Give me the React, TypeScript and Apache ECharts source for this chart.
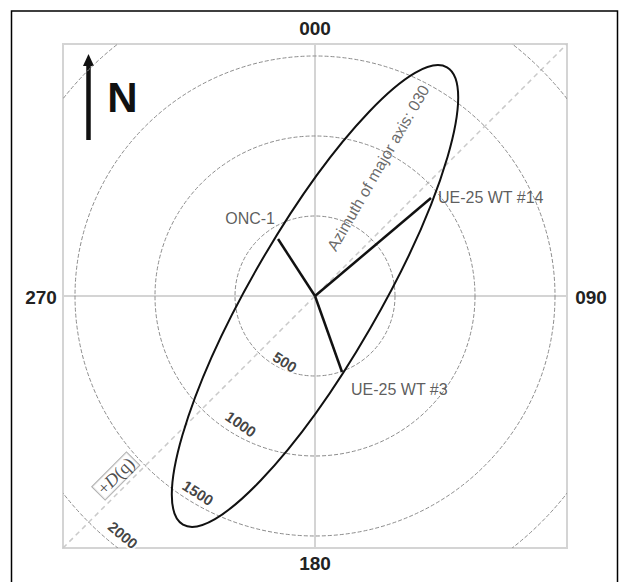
import React, { useEffect, useRef } from 'react';
import * as echarts from 'echarts';

// ---- data ----
const AXIS_LIMIT = 1575; // map units from centre to square edge

const ringRadii = [500, 1000, 1500, 2000];
const ringLabelText = ['500', '1000', '1500', '2000'];
const ringLabelX = [-188, -463, -731, -1200];
const ringLabelY = [-413, -800, -1231, -1494];
const ringLabelRotate = [-32, -35, -33, -40];

const wellNames = ['ONC-1', 'UE-25 WT #14', 'UE-25 WT #3'];
const wellX = [-231, 725, 169];
const wellY = [356, 612, -475];

const ellipseCenter = [0, 0];
const ellipseSemiMajor = 1650;
const ellipseSemiMinor = 400;
const ellipseAzimuth = 30; // degrees clockwise from north

const azimuthLabel = 'Azimuth of major axis: 030';
const azimuthLabelPos = [395, 800];
const dqLabelPos = [-1245, -1125];

const directionLabels = ['000', '090', '180', '270'];

const FONT = '"Liberation Sans", Arial, Helvetica, sans-serif';
const SERIF = '"Liberation Serif", "Times New Roman", serif';

const wellLabelStyle: any[] = [
  { align: 'right', position: [-3, -20] },
  { align: 'left', position: [7, -1] },
  { align: 'left', position: [9, 18] },
];

function buildOption(): any {
  const L = AXIS_LIMIT;
  const dirText = (text: string, x: number, y: number) => ({
    type: 'text', x, y,
    style: { text, font: `bold 19px ${FONT}`, fill: '#222', align: 'center', verticalAlign: 'middle' },
  });
  return {
    animation: false,
    backgroundColor: '#ffffff',
    grid: {
      left: 63,
      top: 44,
      width: 504,
      height: 504,
      show: true,
      borderColor: '#d4d4d4',
      borderWidth: 2,
      backgroundColor: 'transparent',
    },
    xAxis: { type: 'value', min: -L, max: L, show: false },
    yAxis: { type: 'value', min: -L, max: L, show: false },
    graphic: [
      {
        type: 'rect',
        shape: { x: 11.5, y: 11, width: 606, height: 620 },
        style: { fill: 'none', stroke: '#000', lineWidth: 1.5 },
        silent: true,
      },
      // north arrow
      {
        type: 'line',
        shape: { x1: 88.5, y1: 140, x2: 88.5, y2: 64 },
        style: { stroke: '#111', lineWidth: 4.5 },
      },
      {
        type: 'polygon',
        shape: { points: [[83, 66], [94, 66], [88.5, 54]] },
        style: { fill: '#111' },
      },
      {
        type: 'text',
        x: 122.5,
        y: 97,
        style: {
          text: 'N',
          font: `bold 42px ${FONT}`,
          fill: '#111',
          align: 'center',
          verticalAlign: 'middle',
        },
      },
      dirText(directionLabels[0], 315, 28),
      dirText(directionLabels[1], 591, 297),
      dirText(directionLabels[2], 315, 563),
      dirText(directionLabels[3], 41, 297),
    ],
    series: [
      // crosshair
      {
        type: 'line', data: [[-L, 0], [L, 0]], symbol: 'none', silent: true, z: 1,
        lineStyle: { color: '#d4d4d4', width: 2 },
      },
      {
        type: 'line', data: [[0, -L], [0, L]], symbol: 'none', silent: true, z: 1,
        lineStyle: { color: '#d4d4d4', width: 2 },
      },
      // diagonal dashed
      {
        type: 'line', data: [[-L, -L], [L, L]], symbol: 'none', silent: true, z: 1,
        lineStyle: { color: '#cacaca', width: 1.5, type: [5, 4] },
      },
      // distance rings
      {
        type: 'custom',
        z: 2,
        silent: true,
        data: ringRadii.map((r) => [0, 0, r]),
        encode: { x: 0, y: 1 },
        renderItem: (params: any, api: any) => {
          const c = api.coord([api.value(0), api.value(1)]);
          const r = api.size([api.value(2), 0])[0];
          const cs = params.coordSys;
          return {
            type: 'circle',
            shape: { cx: c[0], cy: c[1], r },
            style: { fill: 'none', stroke: '#8c8c8c', lineWidth: 1, lineDash: [4, 2] },
            clipPath: { type: 'rect', shape: { x: cs.x, y: cs.y, width: cs.width, height: cs.height } },
          };
        },
      },
      // ring labels
      {
        type: 'scatter',
        z: 3,
        silent: true,
        symbolSize: 0.1,
        itemStyle: { color: 'transparent' },
        data: ringLabelText.map((t, i) => ({
          value: [ringLabelX[i], ringLabelY[i]],
          name: t,
          label: { rotate: ringLabelRotate[i] },
        })),
        label: {
          show: true,
          position: 'inside',
          formatter: (p: any) => p.name,
          fontFamily: FONT,
          fontSize: 15,
          fontWeight: 'bold',
          color: '#111',
          backgroundColor: '#fff',
          padding: [0, 1],
        },
      },
      // +D(q) label
      {
        type: 'scatter',
        z: 3,
        silent: true,
        symbolSize: 0.1,
        itemStyle: { color: 'transparent' },
        data: [{ value: dqLabelPos, name: 'dq' }],
        label: {
          show: true,
          position: 'inside',
          rotate: 45,
          formatter: '{n|+}{i|D}{n|(q)}',
          backgroundColor: '#fff',
          borderColor: '#999',
          borderWidth: 1,
          padding: [0, 2],
          rich: {
            n: { fontFamily: SERIF, fontSize: 18, color: '#222' },
            i: { fontFamily: SERIF, fontSize: 18, fontStyle: 'italic', color: '#222' },
          },
        },
      },
      // azimuth label
      {
        type: 'scatter',
        z: 3,
        silent: true,
        symbolSize: 0.1,
        itemStyle: { color: 'transparent' },
        data: [{ value: azimuthLabelPos, name: azimuthLabel }],
        label: {
          show: true,
          position: 'inside',
          rotate: 90 - ellipseAzimuth,
          formatter: (p: any) => p.name,
          fontFamily: FONT,
          fontSize: 16,
          color: '#444',
        },
      },
      // ellipse
      {
        type: 'custom',
        z: 4,
        silent: true,
        data: [[ellipseCenter[0], ellipseCenter[1], ellipseSemiMajor, ellipseSemiMinor, ellipseAzimuth]],
        encode: { x: 0, y: 1 },
        renderItem: (params: any, api: any) => {
          const c = api.coord([api.value(0), api.value(1)]);
          const a = api.size([api.value(2), 0])[0];
          const b = api.size([api.value(3), 0])[0];
          const rot = ((90 - api.value(4)) * Math.PI) / 180;
          return {
            type: 'ellipse',
            x: c[0],
            y: c[1],
            rotation: rot,
            shape: { cx: 0, cy: 0, rx: a, ry: b },
            style: { fill: 'none', stroke: '#111', lineWidth: 2 },
          };
        },
      },
      // well legs
      ...wellNames.map((n, i) => ({
        type: 'line',
        z: 5,
        silent: true,
        symbol: 'none',
        data: [[0, 0], [wellX[i], wellY[i]]],
        lineStyle: { color: '#111', width: 2.5 },
      })),
      // well labels
      {
        type: 'scatter',
        z: 6,
        silent: true,
        symbolSize: 0.1,
        itemStyle: { color: 'transparent' },
        data: wellNames.map((n, i) => ({
          value: [wellX[i], wellY[i]],
          name: n,
          label: { ...wellLabelStyle[i] },
        })),
        label: {
          show: true,
          formatter: (p: any) => p.name,
          fontFamily: FONT,
          fontSize: 16,
          color: '#333',
          verticalAlign: 'middle',
        },
      },
    ],
  };
}

export default function App() {
  const ref = useRef<HTMLDivElement>(null);
  useEffect(() => {
    document.body.style.margin = '0';
    const chart = echarts.init(ref.current as HTMLDivElement, null, { renderer: 'svg' });
    chart.setOption(buildOption());
    return () => chart.dispose();
  }, []);
  return <div ref={ref} style={{ width: 622, height: 582 }} />;
}
